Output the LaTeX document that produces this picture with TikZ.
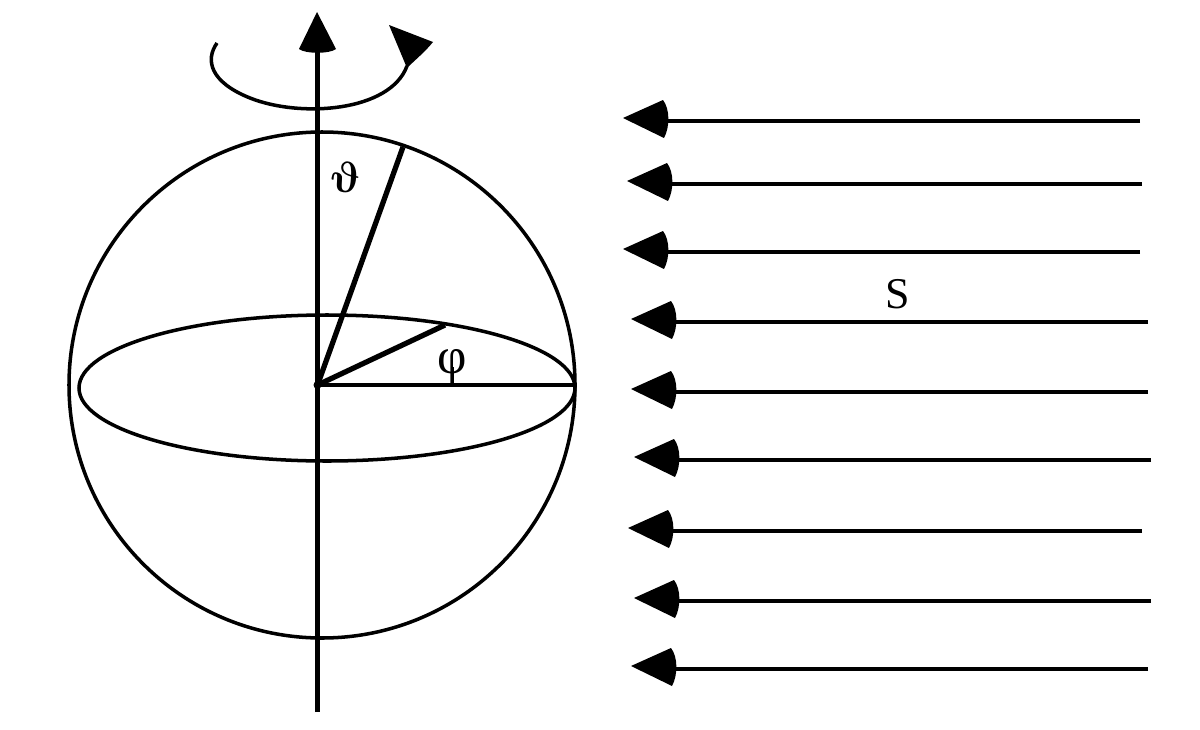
\documentclass[tikz,border=0pt]{standalone}
\usepackage{amsmath}
\usepackage{fontspec}
\setmainfont{Liberation Serif}
\tikzset{
	thinline/.style={line width=2pt, color=black},
	axisline/.style={line width=2.4pt, color=black},
	thickline/.style={line width=3pt, color=black},
	glyph/.style={font=\fontsize{25}{25}\selectfont, inner sep=0pt}
}
\def\sunray(#1,#2,#3){
	\draw[thinline] (#3, #2) -- (#1+42, #2);
	\fill[shift={(#1, #2)}] (0, -3) -- (40, -21) .. controls (47, -12) and (47, 6) .. (41, 17) -- cycle;
}

\begin{document}
\begin{tikzpicture}[x=0.02cm, y=-0.02cm]
	%%%%% START %%%%%
	\useasboundingbox (0, 0) rectangle (1200, 730);

	\coordinate (centre) at (317.5, 385);
	\coordinate (axisbottom) at (317.5, 712);
	\coordinate (axistop) at (317.5, 50);
	\coordinate (polar) at (403, 147);
	\coordinate (azimuth) at (445, 325);
	\coordinate (rim) at (575, 385);
	\coordinate (phifoot) at (452.5, 385);

	\draw[thinline] (322, 385) circle (253);
	\draw[thinline] (327, 388) ellipse [x radius=248, y radius=73];

	\draw[axisline] (axisbottom) -- (axistop);
	\fill (317, 12) -- (336, 49) .. controls (330, 54) and (305, 54) .. (299, 49) -- cycle;

	\draw[thickline] (centre) -- (polar);
	\draw[thickline] (centre) -- (azimuth);
	\draw[thinline] (centre) -- (rim);
	\fill (centre) circle (4);

	\draw[thinline] (217, 43) .. controls (205, 60) and (210, 82) .. (250, 98) .. controls (300, 118) and (390, 112) .. (407, 66);
	\fill (389, 25) -- (433, 42) .. controls (425, 52) and (415, 60) .. (407, 68) -- cycle;

	\node[glyph, font=\fontsize{31}{31}\selectfont, xslant=-0.2, transform shape] (theta) at (345, 177) {$\boldsymbol{\vartheta}$};
	\node[glyph, font=\fontsize{29}{29}\selectfont] (phi) at (452.5, 367) {φ};
	\node[glyph] (flux) at (898, 294) {S};
	\draw[thinline] (phi.center) -- (phifoot);

	\sunray(623, 121, 1140)
	\sunray(627, 184, 1142)
	\sunray(623, 252, 1140)
	\sunray(631, 322, 1148)
	\sunray(631, 392, 1148)
	\sunray(634, 460, 1151)
	\sunray(628, 531, 1142)
	\sunray(634, 601, 1151)
	\sunray(631, 669, 1148)
	%%%%% END %%%%%
\end{tikzpicture}
\end{document}
